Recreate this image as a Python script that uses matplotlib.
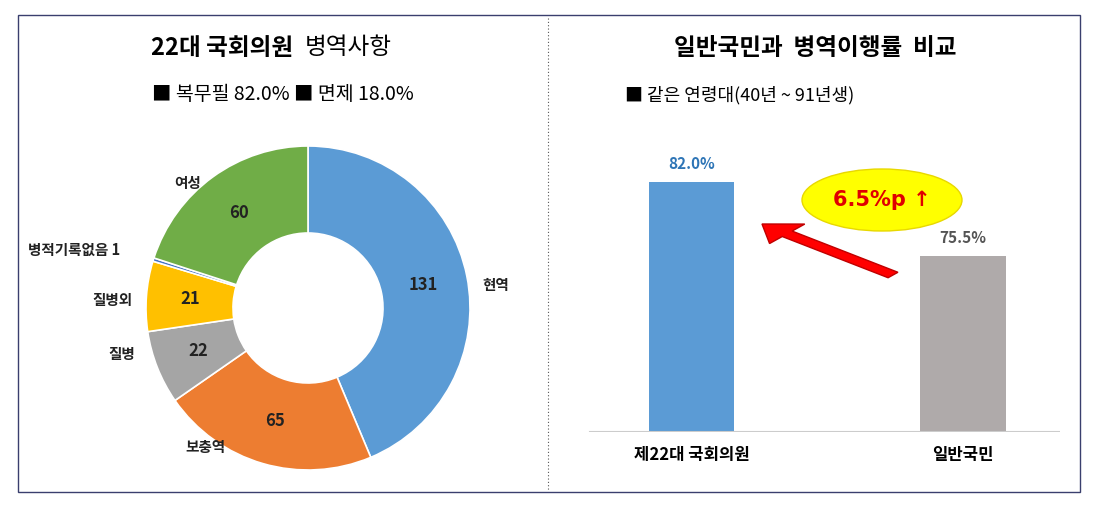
import numpy as np
import matplotlib
matplotlib.use("Agg")
import matplotlib.pyplot as plt
from matplotlib.patches import Rectangle, Ellipse, FancyArrow

plt.rcParams['font.family'] = ['Noto Sans CJK KR', 'DejaVu Sans']

# data
pie_labels = ["현역", "보충역", "질병", "질병외", "병적기록없음", "여성"]
pie_values = [131, 65, 22, 21, 1, 60]
pie_colors = ["#5B9BD5", "#ED7D31", "#A5A5A5", "#FFC000", "#4472C4", "#70AD47"]
bar_labels = ["제22대 국회의원", "일반국민"]
bar_values = [82.0, 75.5]
bar_colors = ["#5B9BD5", "#AFAAAA"]

W, H = 1095, 508
fig = plt.figure(figsize=(W / 100, H / 100), dpi=100)
fig.patch.set_facecolor("white")


def px(x, y):
    return x / W, 1 - y / H


# frame and divider
fig.add_artist(Rectangle(px(18, 492), 1062 / W, 477 / H, transform=fig.transFigure,
                         fill=False, ec="#3a3f6e", lw=1))
fig.add_artist(plt.Line2D([548 / W] * 2, [1 - 18 / H, 1 - 490 / H], transform=fig.transFigure,
                          color="#555", lw=0.8, ls=(0, (1, 2))))

# titles
fig.text(*px(222, 48), "22대 국회의원", fontsize=17, fontweight="bold", ha="center", va="center")
fig.text(*px(348, 48), "병역사항", fontsize=17, ha="center", va="center")
fig.text(*px(283, 95), "■ 복무필 82.0% ■ 면제 18.0%", fontsize=14, ha="center", va="center")
fig.text(*px(815, 48), "일반국민과  병역이행률  비교", fontsize=17, fontweight="bold", ha="center", va="center")
fig.text(*px(625, 95), "■ 같은 연령대(40년 ~ 91년생)", fontsize=13, ha="left", va="center")

# donut
cx, cy, R = 308, 308, 162
ax = fig.add_axes([(cx - 200) / W, (H - cy - 200) / H, 400 / W, 400 / H])
wedges, _ = ax.pie(pie_values, colors=pie_colors, startangle=90, counterclock=False, radius=R,
                   wedgeprops=dict(width=87, edgecolor="white", linewidth=1.2))
ax.set_xlim(-200, 200); ax.set_ylim(-200, 200); ax.set_aspect("equal"); ax.axis("off")
for w, v in zip(wedges, pie_values):
    if v < 5:
        continue
    a = np.deg2rad((w.theta1 + w.theta2) / 2)
    ax.text(118 * np.cos(a), 118 * np.sin(a), str(v), ha="center", va="center",
            fontsize=12, fontweight="bold", color="#222")
outer_pos = [(482, 285, "left"), (205, 447, "center"), (122, 354, "center"),
             (112, 300, "center"), (28, 250, "left"), (188, 183, "center")]
for (x, y, ha), lab, v in zip(outer_pos, pie_labels, pie_values):
    t = lab + (" 1" if v == 1 else "")
    fig.text(*px(x, y), t, ha=ha, va="center", fontsize=10.5, fontweight="bold", color="#222")

# bars
bx = fig.add_axes([580 / W, (H - 432) / H, 480 / W, 312 / H])
bx.set_xlim(-0.413, 1.358); bx.set_ylim(60, 60 + 312 / 11.35)
bx.bar(range(2), bar_values, width=0.314, color=bar_colors, bottom=0)
bx.axis("off")
bx.axhline(60, color="#cccccc", lw=1.5, xmin=0.02)
val_colors = ["#2E75B6", "#555555"]
for i, v in enumerate(bar_values):
    bx.text(i, v + 0.9, f"{v:.1f}%", ha="center", va="bottom", fontsize=11,
            fontweight="bold", color=val_colors[i])
    fig.text(*px(692 + 271 * i, 455), bar_labels[i], ha="center", va="center",
             fontsize=12, fontweight="bold")

# annotation
fig.add_artist(Ellipse(px(882, 200), 160 / W, 62 / H, transform=fig.transFigure,
                       fc="#FFFF00", ec="#E8D800"))
fig.text(*px(882, 200), "6.5%p ↑", ha="center", va="center", fontsize=15,
         fontweight="bold", color="#E00000", family=['DejaVu Sans', 'Noto Sans CJK KR'])
x0, y0 = px(893, 275); x1, y1 = px(762, 224)
fig.add_artist(FancyArrow(x0, y0, x1 - x0, y1 - y0, width=0.014, head_width=0.05,
                          head_length=0.03, length_includes_head=True,
                          transform=fig.transFigure, color="#FF0000", ec="#C00000"))

fig.savefig("out.png", dpi=100)
